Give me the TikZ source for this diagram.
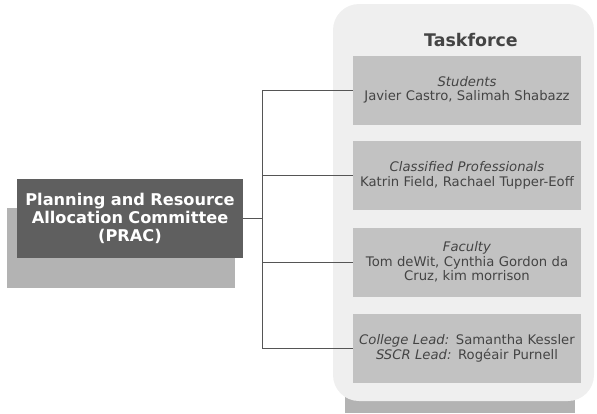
\documentclass[tikz,border=0pt]{standalone}
\usepackage{fontspec}
\setmainfont{DejaVu Sans}
\usepackage{xcolor}
\usetikzlibrary{positioning}

\definecolor{pracgray}{HTML}{5F5F5F}
\definecolor{shadegray}{HTML}{B3B3B3}
\definecolor{panelgray}{HTML}{EFEFEF}
\definecolor{membergray}{HTML}{C2C2C2}
\definecolor{textgray}{HTML}{444444}
\definecolor{linegray}{HTML}{555555}

\tikzset{
    prac/.style={fill=pracgray, text=white, font=\fontsize{16.2}{18}\selectfont\bfseries,
        minimum width=226pt, minimum height=79pt, text width=224pt, align=center, inner sep=0pt},
    member/.style={fill=membergray, text=textgray, font=\fontsize{13.2}{14.6}\selectfont,
        minimum width=228pt, minimum height=69pt, text width=226pt, align=center, inner sep=0pt},
    link/.style={draw=linegray, line width=0.8pt}
}

\begin{document}
\begin{tikzpicture}[x=1pt, y=-1pt]
    \useasboundingbox (0,0) rectangle (597,413);

    % drop shadows behind the committee box and the taskforce panel
    \fill[shadegray] (7,208) rectangle (235,288);
    \fill[shadegray] (345,370) rectangle (575,413);
    \fill[panelgray, rounded corners=26pt] (333,4) rectangle (594,401);

    \node[text=textgray, font=\fontsize{17.4}{19}\selectfont\bfseries] (title) at (471,40) {Taskforce};

    \node[prac] (prac) at (130,218) {Planning and Resource\\ Allocation Committee\\ (PRAC)};

    % the four member groups
    \node[member] (students) at (467,90) {\textit{Students}\\ Javier Castro, Salimah Shabazz};
    \node[member] (classified) at (467,175.5) {\textit{Classified Professionals}\\ Katrin Field, Rachael Tupper-Eoff};
    \node[member] (faculty) at (467,262) {\textit{Faculty}\\ Tom deWit, Cynthia Gordon da\\ Cruz, kim morrison};
    \node[member] (leads) at (467,348.5) {\textit{College Lead:} Samantha Kessler\\ \textit{SSCR Lead:} Rogéair Purnell};

    \coordinate (trunk) at (262,218);
    \draw[link] (prac.east) -- (trunk);
    \draw[link] (trunk |- students.west) -- (trunk |- leads.west);
    \foreach \g in {students,classified,faculty,leads}
        \draw[link] (trunk |- \g.west) -- (\g.west);
\end{tikzpicture}
\end{document}
